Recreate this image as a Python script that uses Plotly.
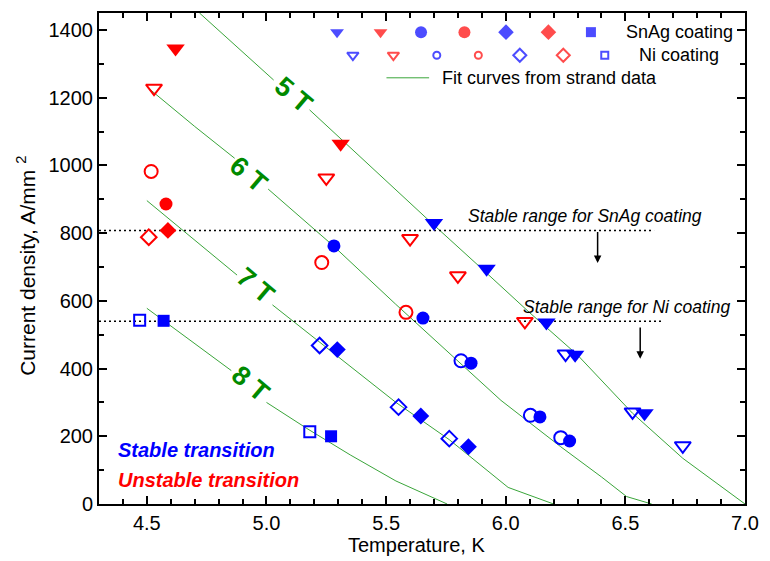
import plotly.graph_objects as go

# ---------------- data ----------------
# SnAg coating (filled markers)
snag_blue_tri_T = [5.70, 5.92, 6.17, 6.29, 6.58]
snag_blue_tri_J = [830, 695, 536, 441, 268]
snag_red_tri_T = [4.62, 5.31]
snag_red_tri_J = [1345, 1064]
snag_blue_circ_T = [5.282, 5.654, 5.855, 6.143, 6.267]
snag_blue_circ_J = [762, 549, 416, 257, 186]
snag_red_circ_T = [4.580]
snag_red_circ_J = [886]
snag_blue_dia_T = [5.296, 5.645, 5.844]
snag_blue_dia_J = [456, 260, 169]
snag_red_dia_T = [4.588]
snag_red_dia_J = [808]
snag_blue_sq_T = [4.570, 5.270]
snag_blue_sq_J = [541, 200]

# Ni coating (open markers)
ni_blue_tri_T = [6.25, 6.53, 6.74]
ni_blue_tri_J = [443, 272, 172]
ni_red_tri_T = [4.53, 5.25, 5.60, 5.80, 6.08]
ni_red_tri_J = [1228, 963, 784, 674, 539]
ni_blue_circ_T = [5.813, 6.103, 6.230]
ni_blue_circ_J = [423, 262, 196]
ni_red_circ_T = [4.518, 5.231, 5.583]
ni_red_circ_J = [982, 713, 566]
ni_blue_dia_T = [5.222, 5.552, 5.764]
ni_blue_dia_J = [468, 286, 193]
ni_red_dia_T = [4.508]
ni_red_dia_J = [788]
ni_blue_sq_T = [4.470, 5.181]
ni_blue_sq_J = [543, 213]

# Fit curves from strand data (None = gap for the field label)
fit5_T = [4.72, 5.03, None, 5.18, 5.32, 5.50, 5.69, 5.90, 6.10, 6.30, 6.53, 6.74, 7.00]
fit5_J = [1450, 1252, None, 1164, 1072, 955, 830, 695, 565, 440, 268, 135, 0]
fit6_T = [4.505, 4.70, 4.867, None, 5.007, 5.28, 5.54, 5.75, 5.98, 6.23, 6.40, 6.505, 6.61]
fit6_J = [1229, 1115, 1021, None, 930, 762, 590, 455, 306, 169, 80, 22, 0]
fit7_T = [4.50, 4.70, 4.877, None, 5.025, 5.30, 5.541, 5.764, 5.955, 6.01, 6.20]
fit7_J = [896, 780, 676, None, 588, 435, 300, 190, 80, 49, 0]
fit8_T = [4.50, 4.70, 4.853, None, 5.00, 5.169, 5.35, 5.541, 5.755]
fit8_J = [578, 474, 394, None, 300, 223, 145, 68, 0]

field_labels = ["5 T", "6 T", "7 T", "8 T"]
field_label_T = [5.114, 4.928, 4.956, 4.935]
field_label_J = [1208, 973, 644, 355]

snag_limit = 808
ni_limit = 540

x_ticks = [4.5, 5.0, 5.5, 6.0, 6.5, 7.0]
y_ticks = [0, 200, 400, 600, 800, 1000, 1200, 1400]

# legend symbol placement (fractions of the plot area)
leg_row1_x = [0.3685, 0.4358, 0.4985, 0.5657, 0.6300, 0.6957, 0.7615]
leg_row2_x = [0.3930, 0.4557, 0.5229, 0.5872, 0.6514, 0.7187, 0.7829]

BLUE = "#0000FF"
RED = "#FF0000"
GREEN_LINE = "#3aa53a"
GREEN_TXT = "#008a00"
FONT = "Liberation Sans, Arial, sans-serif"

fig = go.Figure()

# fit curves
for T, J in [(fit5_T, fit5_J), (fit6_T, fit6_J), (fit7_T, fit7_J), (fit8_T, fit8_J)]:
    fig.add_trace(go.Scatter(x=T, y=J, mode="lines", line=dict(color=GREEN_LINE, width=1),
                             connectgaps=False, showlegend=False, hoverinfo="skip"))

# stable-range dotted lines
fig.add_trace(go.Scatter(x=[4.3, 6.62], y=[snag_limit, snag_limit], mode="lines",
                         line=dict(color="black", width=1.5, dash="2px,3px"), showlegend=False))
fig.add_trace(go.Scatter(x=[4.3, 6.65], y=[ni_limit, ni_limit], mode="lines",
                         line=dict(color="black", width=1.5, dash="2px,3px"), showlegend=False))

def pts(T, J, symbol, color, size, open_=False):
    if open_:
        marker = dict(symbol=symbol, size=size, color=color,
                      line=dict(color=color, width=2))
    else:
        marker = dict(symbol=symbol, size=size, color=color, line=dict(width=0))
    fig.add_trace(go.Scatter(x=T, y=J, mode="markers", marker=marker,
                             showlegend=False, cliponaxis=False))

# open (Ni) first, filled (SnAg) on top
pts(ni_blue_tri_T, ni_blue_tri_J, "triangle-down-open", BLUE, 14, True)
pts(ni_red_tri_T, ni_red_tri_J, "triangle-down-open", RED, 14, True)
pts(ni_blue_circ_T, ni_blue_circ_J, "circle-open", BLUE, 13, True)
pts(ni_red_circ_T, ni_red_circ_J, "circle-open", RED, 13, True)
pts(ni_blue_dia_T, ni_blue_dia_J, "diamond-open", BLUE, 12, True)
pts(ni_red_dia_T, ni_red_dia_J, "diamond-open", RED, 12, True)
pts(ni_blue_sq_T, ni_blue_sq_J, "square-open", BLUE, 11, True)

pts(snag_blue_tri_T, snag_blue_tri_J, "triangle-down", BLUE, 16)
pts(snag_red_tri_T, snag_red_tri_J, "triangle-down", RED, 16)
pts(snag_blue_circ_T, snag_blue_circ_J, "circle", BLUE, 13)
pts(snag_red_circ_T, snag_red_circ_J, "circle", RED, 13)
pts(snag_blue_dia_T, snag_blue_dia_J, "diamond", BLUE, 13)
pts(snag_red_dia_T, snag_red_dia_J, "diamond", RED, 13)
pts(snag_blue_sq_T, snag_blue_sq_J, "square", BLUE, 12)

# legend symbols on an overlay axis spanning the plot area 0..1
row1_sym = ["triangle-down", "triangle-down", "circle", "circle", "diamond", "diamond", "square"]
row1_size = [12, 12, 12, 12, 12, 12, 10]
row2_sym = ["triangle-down-open", "triangle-down-open", "circle-open", "circle-open",
            "diamond-open", "diamond-open", "square-open"]
row2_size = [10, 10, 7, 7, 10, 10, 7]
leg_col = [BLUE, RED, BLUE, RED, BLUE, RED, BLUE]
fig.add_trace(go.Scatter(x=leg_row1_x, y=[0.961] * 7, mode="markers", xaxis="x2", yaxis="y2",
                         marker=dict(symbol=row1_sym, size=row1_size, color=leg_col, line=dict(width=0)),
                         showlegend=False, cliponaxis=False))
fig.add_trace(go.Scatter(x=leg_row2_x, y=[0.914] * 7, mode="markers", xaxis="x2", yaxis="y2",
                         marker=dict(symbol=row2_sym, size=row2_size, color=leg_col,
                                     line=dict(color=leg_col, width=2)),
                         showlegend=False, cliponaxis=False))
fig.add_trace(go.Scatter(x=[0.445, 0.511], y=[0.868, 0.868], mode="lines", xaxis="x2", yaxis="y2",
                         line=dict(color=GREEN_LINE, width=1), showlegend=False))

annotations = []
# legend texts
annotations.append(dict(xref="paper", yref="paper", x=0.898, y=0.961, text="SnAg coating",
                        showarrow=False, xanchor="center", yanchor="middle",
                        font=dict(size=18, color="black", family=FONT)))
annotations.append(dict(xref="paper", yref="paper", x=0.898, y=0.914, text="Ni coating",
                        showarrow=False, xanchor="center", yanchor="middle",
                        font=dict(size=18, color="black", family=FONT)))
annotations.append(dict(xref="paper", yref="paper", x=0.528, y=0.868, text="Fit curves from strand data",
                        showarrow=False, xanchor="left", yanchor="middle",
                        font=dict(size=18, color="black", family=FONT)))

# field labels
for lab, t, j in zip(field_labels, field_label_T, field_label_J):
    annotations.append(dict(x=t, y=j, text="<b>" + lab + "</b>", showarrow=False, textangle=40,
                            xanchor="center", yanchor="middle",
                            font=dict(size=27, color=GREEN_TXT, family=FONT)))

# stable range texts + arrows
annotations.append(dict(x=6.333, y=850, text="<i>Stable range for SnAg coating</i>", showarrow=False,
                        xanchor="center", yanchor="middle", font=dict(size=17.5, color="black", family=FONT)))
annotations.append(dict(x=6.506, y=583, text="<i>Stable range for Ni coating</i>", showarrow=False,
                        xanchor="center", yanchor="middle", font=dict(size=17.5, color="black", family=FONT)))
annotations.append(dict(x=6.384, y=712, ax=6.384, ay=808, axref="x", ayref="y", text="",
                        showarrow=True, arrowhead=2, arrowsize=1, arrowwidth=1.5, arrowcolor="black"))
annotations.append(dict(x=6.562, y=429, ax=6.562, ay=526, axref="x", ayref="y", text="",
                        showarrow=True, arrowhead=2, arrowsize=1, arrowwidth=1.5, arrowcolor="black"))

# transition notes
annotations.append(dict(x=4.372, y=159, text="<b><i>Stable transition</i></b>", showarrow=False,
                        xanchor="left", yanchor="middle", font=dict(size=20, color=BLUE, family=FONT)))
annotations.append(dict(x=4.372, y=71, text="<b><i>Unstable transition</i></b>", showarrow=False,
                        xanchor="left", yanchor="middle", font=dict(size=20, color=RED, family=FONT)))

# axis titles
annotations.append(dict(xref="paper", yref="paper", x=0.491, y=-0.083, text="Temperature, K",
                        showarrow=False, xanchor="center", yanchor="middle",
                        font=dict(size=20, color="black", family=FONT)))
annotations.append(dict(xref="paper", yref="paper", x=-0.113, y=0.485,
                        text="Current density, A/mm <sup>2</sup>", textangle=-90,
                        showarrow=False, xanchor="center", yanchor="middle",
                        font=dict(size=21, color="black", family=FONT)))

axis_common = dict(showline=True, linecolor="black", linewidth=2, mirror="allticks",
                   ticks="inside", ticklen=8, tickwidth=1.5, tickcolor="black",
                   showgrid=False, zeroline=False,
                   tickfont=dict(size=20, color="black", family=FONT))

fig.update_layout(
    width=770, height=561,
    margin=dict(l=99, r=17, t=11, b=57),
    plot_bgcolor="white", paper_bgcolor="white",
    font=dict(family=FONT, color="black"),
    showlegend=False,
    xaxis=dict(range=[4.3, 7.0], tickvals=x_ticks, ticktext=[f"{v:.1f}" for v in x_ticks],
               minor=dict(ticks="inside", ticklen=5, tickwidth=1.5, tickcolor="black", dtick=0.1, tick0=4.3),
               **axis_common),
    yaxis=dict(range=[0, 1450], tickvals=y_ticks,
               minor=dict(ticks="inside", ticklen=5, tickwidth=1.5, tickcolor="black", dtick=100, tick0=0),
               **axis_common),
    xaxis2=dict(range=[0, 1], overlaying="x", visible=False),
    yaxis2=dict(range=[0, 1], overlaying="y", visible=False),
    annotations=annotations,
)

fig.write_html("out.html", config={"displayModeBar": False},
               post_script="document.body.style.margin='0';document.body.style.overflow='hidden';")
